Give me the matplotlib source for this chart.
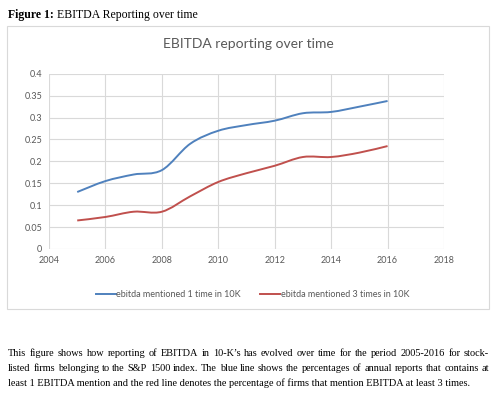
import matplotlib.pyplot as plt
import numpy as np
from matplotlib.path import Path
from matplotlib.patches import PathPatch, Rectangle
from matplotlib.lines import Line2D

years = [2005, 2006, 2007, 2008, 2009, 2010, 2011, 2012, 2013, 2014, 2015, 2016]
once = [0.13, 0.155, 0.17, 0.18, 0.24, 0.27, 0.283, 0.293, 0.31, 0.313, 0.325, 0.338]
thrice = [0.065, 0.073, 0.085, 0.085, 0.12, 0.153, 0.173, 0.19, 0.21, 0.21, 0.22, 0.235]
labels = ['ebitda mentioned 1 time in 10K', 'ebitda mentioned 3 times in 10K']
colors = ['#4F81BD', '#C0504D']

caption = ["This figure shows how reporting of EBITDA in 10-K\u2019s has evolved over time for the period 2005-2016 for stock-",
           "listed firms belonging to the S&P 1500 index.  The blue line shows the percentages of annual reports that contains at",
           "least 1 EBITDA mention and the red line denotes the percentage of firms that mention EBITDA at least 3 times."]


def smooth_path(x, y):
    # Excel-like smoothed line: cubic Bezier through each point
    x = np.asarray(x, float)
    y = np.asarray(y, float)
    verts = [(x[0], y[0])]
    codes = [Path.MOVETO]
    n = len(x)
    for i in range(n - 1):
        x0, y0 = (x[i - 1], y[i - 1]) if i > 0 else (x[i], y[i])
        x3, y3 = (x[i + 2], y[i + 2]) if i + 2 < n else (x[i + 1], y[i + 1])
        c1 = (x[i] + (x[i + 1] - x0) / 6, y[i] + (y[i + 1] - y0) / 6)
        c2 = (x[i + 1] - (x3 - x[i]) / 6, y[i + 1] - (y3 - y[i]) / 6)
        verts += [c1, c2, (x[i + 1], y[i + 1])]
        codes += [Path.CURVE4] * 3
    return Path(verts, codes)


fig = plt.figure(figsize=(5, 3.97), dpi=100)
gray = '#595959'

fig.text(0.016, 0.978, 'Figure 1:', fontfamily='Liberation Serif', fontweight='bold',
         fontsize=8.5, va='top')
fig.text(0.114, 0.978, 'EBITDA Reporting over time', fontfamily='Liberation Serif',
         fontsize=8.5, va='top')

box = Rectangle((0.014, 0.222), 0.964, 0.712, transform=fig.transFigure,
                facecolor='white', edgecolor='#d9d9d9', lw=0.8, zorder=-1)
fig.patches.append(box)

ax = fig.add_axes([0.098, 0.373, 0.79, 0.441])
ax.patch.set_visible(False)
for spine in ax.spines.values():
    spine.set_visible(False)
ax.set_xlim(2004, 2018)
ax.set_ylim(0, 0.4)
ax.set_xticks(np.arange(2004, 2019, 2))
ax.set_yticks(np.arange(0, 0.41, 0.05))
ax.set_yticklabels(['0', '0.05', '0.1', '0.15', '0.2', '0.25', '0.3', '0.35', '0.4'])
ax.grid(True, color='#d9d9d9', lw=0.8)
ax.set_axisbelow(True)
ax.tick_params(length=0, labelsize=6.5, labelcolor=gray, pad=5, labelfontfamily='Lato')

handles = []
for ys, c, lab in zip([once, thrice], colors, labels):
    ax.add_patch(PathPatch(smooth_path(years, ys), facecolor='none', edgecolor=c, lw=1.4))
    handles.append(Line2D([], [], color=c, lw=1.4, label=lab))

fig.text(0.497, 0.89, 'EBITDA reporting over time', ha='center', va='center',
         fontsize=10, color=gray, fontfamily='Lato')
fig.legend(handles=handles, loc='center', bbox_to_anchor=(0.505, 0.258), ncol=2,
           frameon=False, handlelength=2.2, handletextpad=0.1,
           columnspacing=2.1, labelcolor=gray, prop={'family': 'Lato', 'size': 6.5})

# caption, justified except the last line
renderer = fig.canvas.get_renderer()
x_left, x_right = 0.016, 0.978
for i, line in enumerate(caption):
    y = 0.11 - i * 0.038
    if i == len(caption) - 1:
        fig.text(x_left, y, line, fontfamily='Liberation Serif', fontsize=7.4, va='center')
        continue
    words = line.split()
    items = [fig.text(0, y, w, fontfamily='Liberation Serif', fontsize=7.4, va='center')
             for w in words]
    widths = [t.get_window_extent(renderer).width / fig.bbox.width for t in items]
    gap = (x_right - x_left - sum(widths)) / (len(words) - 1)
    x = x_left
    for t, w in zip(items, widths):
        t.set_x(x)
        x += w + gap

fig.savefig('out.png', dpi=100)
